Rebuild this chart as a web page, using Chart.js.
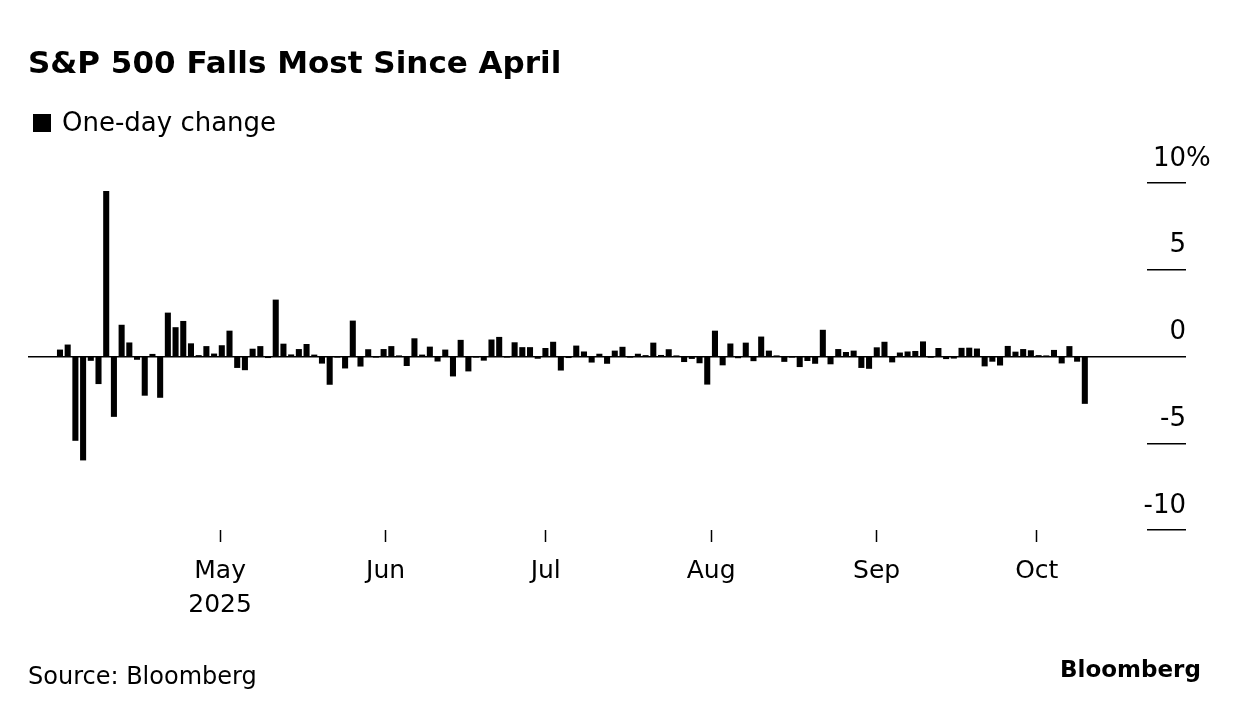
<!DOCTYPE html>
<html><head><meta charset="utf-8">
<script src="https://cdn.jsdelivr.net/npm/chart.js@4.4.1/dist/chart.umd.min.js"></script>
<style>
html,body{margin:0;padding:0;background:#fff;width:1240px;height:716px;overflow:hidden;font-family:"DejaVu Sans";}
#wrap{position:relative;width:1240px;height:716px;}
canvas{position:absolute;left:0;top:0;}
.t{position:absolute;white-space:nowrap;color:#000;line-height:1;}
</style></head><body>
<div id="wrap">
<canvas id="c" width="1240" height="716"></canvas>
<div class="t" style="left:28px;top:47px;font-size:31px;font-weight:bold;">S&amp;P 500 Falls Most Since April</div>
<div style="position:absolute;left:33px;top:114px;width:18px;height:18px;background:#000"></div>
<div class="t" style="left:62px;top:109px;font-size:26px;">One-day change</div>
<div class="t" style="left:28px;top:664px;font-size:24px;">Source: Bloomberg</div>
<div class="t" style="left:1060px;top:658px;font-size:23px;font-weight:bold;">Bloomberg</div>
</div>
<script>
const dates = [
'2025-04-01','2025-04-02','2025-04-03','2025-04-04','2025-04-07','2025-04-08','2025-04-09','2025-04-10','2025-04-11','2025-04-14','2025-04-15','2025-04-16','2025-04-17','2025-04-21','2025-04-22','2025-04-23','2025-04-24','2025-04-25','2025-04-28','2025-04-29','2025-04-30',
'2025-05-01','2025-05-02','2025-05-05','2025-05-06','2025-05-07','2025-05-08','2025-05-09','2025-05-12','2025-05-13','2025-05-14','2025-05-15','2025-05-16','2025-05-19','2025-05-20','2025-05-21','2025-05-22','2025-05-23','2025-05-27','2025-05-28','2025-05-29','2025-05-30',
'2025-06-02','2025-06-03','2025-06-04','2025-06-05','2025-06-06','2025-06-09','2025-06-10','2025-06-11','2025-06-12','2025-06-13','2025-06-16','2025-06-17','2025-06-18','2025-06-20','2025-06-23','2025-06-24','2025-06-25','2025-06-26','2025-06-27','2025-06-30',
'2025-07-01','2025-07-02','2025-07-03','2025-07-07','2025-07-08','2025-07-09','2025-07-10','2025-07-11','2025-07-14','2025-07-15','2025-07-16','2025-07-17','2025-07-18','2025-07-21','2025-07-22','2025-07-23','2025-07-24','2025-07-25','2025-07-28','2025-07-29','2025-07-30','2025-07-31',
'2025-08-01','2025-08-04','2025-08-05','2025-08-06','2025-08-07','2025-08-08','2025-08-11','2025-08-12','2025-08-13','2025-08-14','2025-08-15','2025-08-18','2025-08-19','2025-08-20','2025-08-21','2025-08-22','2025-08-25','2025-08-26','2025-08-27','2025-08-28','2025-08-29',
'2025-09-02','2025-09-03','2025-09-04','2025-09-05','2025-09-08','2025-09-09','2025-09-10','2025-09-11','2025-09-12','2025-09-15','2025-09-16','2025-09-17','2025-09-18','2025-09-19','2025-09-22','2025-09-23','2025-09-24','2025-09-25','2025-09-26','2025-09-29','2025-09-30',
'2025-10-01','2025-10-02','2025-10-03','2025-10-06','2025-10-07','2025-10-08','2025-10-09','2025-10-10'
];
const values = [
0.38,0.67,-4.84,-5.97,-0.23,-1.57,9.52,-3.46,1.81,0.79,-0.17,-2.24,0.13,-2.36,2.51,1.67,2.03,0.74,0.06,0.58,0.15,
0.63,1.47,-0.64,-0.77,0.43,0.58,-0.07,3.26,0.72,0.10,0.41,0.70,0.09,-0.39,-1.61,-0.04,-0.67,2.05,-0.56,0.40,-0.01,
0.41,0.58,0.01,-0.53,1.03,0.09,0.55,-0.27,0.38,-1.13,0.94,-0.84,-0.03,-0.22,0.96,1.11,-0.01,0.80,0.52,0.52,
-0.11,0.47,0.83,-0.79,-0.07,0.61,0.27,-0.33,0.14,-0.40,0.32,0.54,-0.01,0.14,0.06,0.78,0.07,0.40,0.02,-0.30,-0.12,-0.37,
-1.60,1.47,-0.49,0.73,-0.08,0.78,-0.25,1.13,0.32,0.03,-0.29,-0.01,-0.59,-0.24,-0.40,1.52,-0.43,0.41,0.24,0.32,-0.64,
-0.69,0.51,0.83,-0.32,0.21,0.27,0.30,0.85,-0.05,0.47,-0.13,-0.10,0.48,0.49,0.44,-0.55,-0.28,-0.50,0.59,0.26,0.41,
0.34,0.06,0.01,0.36,-0.38,0.58,-0.28,-2.71
];
const monthTicks = ['2025-05-01','2025-06-01','2025-07-01','2025-08-01','2025-09-01','2025-10-01'];
const monthLabels = [['May','2025'],'Jun','Jul','Aug','Sep','Oct'];
const yTicks = [-10,-5,0,5,10];
const yTickLabels = ['-10','-5','0','5','10'];
const yUnit = '%';

const toDay = s => Date.UTC(+s.slice(0,4), +s.slice(5,7)-1, +s.slice(8,10)) / 86400000;
const d0 = toDay(dates[0]), d1 = toDay(dates[dates.length-1]), nIdx = dates.length - 1;
const tickPos = monthTicks.map(s => (toDay(s) - d0) / (d1 - d0) * nIdx);

const yLabels = {
  id: 'yLabels',
  afterDraw(chart) {
    const s = chart.scales.y, ctx = chart.ctx, xr = chart.chartArea.right + 39;
    ctx.save();
    ctx.font = '26px "DejaVu Sans"';
    ctx.fillStyle = '#000';
    ctx.textBaseline = 'alphabetic';
    yTicks.forEach((v, i) => {
      const y = s.getPixelForValue(v) - 17.5;
      ctx.textAlign = 'right';
      ctx.fillText(yTickLabels[i], xr, y);
      if (i === yTicks.length - 1) { ctx.textAlign = 'left'; ctx.fillText(yUnit, xr, y); }
    });
    ctx.restore();
  }
};

new Chart(document.getElementById('c'), {
  type: 'bar',
  data: { datasets: [{ data: values.map((v, i) => ({ x: i, y: v })), backgroundColor: '#000', borderWidth: 0, barThickness: 5.4 }] },
  options: {
    responsive: false, animation: false, events: [],
    layout: { padding: { left: 28, right: 54, top: 183, bottom: 94 } },
    plugins: { legend: { display: false }, tooltip: { enabled: false } },
    scales: {
      x: {
        type: 'linear', min: -4.15, max: 141.07, offset: false,
        afterBuildTicks: s => { s.ticks = tickPos.map(v => ({ value: v })); },
        afterFit: s => { s.height = 92; },
        grid: { offset: false, drawOnChartArea: false, drawTicks: true, tickLength: 12, tickColor: '#000', tickWidth: 1.5 },
        border: { display: false },
        ticks: { autoSkip: false, maxRotation: 0, minRotation: 0, padding: 12, color: '#000',
          font: { family: 'DejaVu Sans', size: 25, lineHeight: 1.36 },
          callback: (v, i) => monthLabels[i] }
      },
      y: {
        position: 'right', min: -10, max: 10,
        afterBuildTicks: s => { s.ticks = yTicks.map(v => ({ value: v })); },
        afterFit: s => { s.width = 39; },
        ticks: { display: false },
        grid: { color: c => (c.tick && c.tick.value === 0) ? '#000' : 'rgba(0,0,0,0)', lineWidth: 1.5,
          drawTicks: true, tickLength: 39, tickColor: '#000', tickWidth: 1.5 },
        border: { display: false }
      }
    }
  },
  plugins: [yLabels]
});
</script>
</body></html>
